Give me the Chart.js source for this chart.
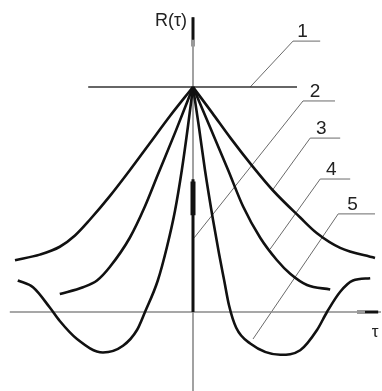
<!DOCTYPE html>
<html>
<head>
<meta charset="utf-8">
<script src="https://cdn.jsdelivr.net/npm/chart.js@4/dist/chart.umd.min.js"></script>
<style>
  html, body { margin: 0; padding: 0; background: #fff; }
</style>
</head>
<body>
<canvas id="corrChart" width="382" height="391"></canvas>
<script>
// Correlation functions R(tau), normalized to R(0) = 1
// 1 - constant process
const tau1 = [-2.62, 2.6];
const r1 = [1, 1];

// 2 - white noise (impulse at tau = 0)
const tau2 = [0, 0];
const r2 = [0.59, 0];

// 3 - slow exponential decay
const tau3L = [-4.45, -3.83, -3.33, -2.95, -2.58, -2.08, -1.58, -1.08, -0.58, 0];
const r3L = [0.23, 0.255, 0.29, 0.34, 0.41, 0.515, 0.63, 0.75, 0.87, 1];
const tau3R = [0, 0.48, 0.93, 1.5, 2.0, 2.68, 3.1, 3.68, 4.55];
const r3R = [1, 0.885, 0.775, 0.645, 0.54, 0.42, 0.35, 0.285, 0.24];

// 4 - fast exponential decay
const tau4L = [-3.33, -2.75, -2.4, -2.08, -1.58, -1.2, -0.88, -0.43, 0];
const r4L = [0.08, 0.11, 0.14, 0.2, 0.33, 0.47, 0.61, 0.805, 1];
const tau4R = [0, 0.43, 0.88, 1.25, 1.68, 2.1, 2.43, 2.85, 3.43];
const r4R = [1, 0.82, 0.63, 0.47, 0.33, 0.23, 0.17, 0.12, 0.1];

// 5 - damped oscillation
const tau5L = [-4.38, -4.0, -3.58, -3.33, -2.9, -2.25, -1.75, -1.4, -1.2, -0.88, -0.65, -0.45, -0.28, -0.13, 0];
const r5L = [0.14, 0.11, 0.02, -0.04, -0.12, -0.18, -0.15, -0.08, 0, 0.14, 0.29, 0.45, 0.63, 0.82, 1];
const tau5R = [0, 0.15, 0.3, 0.5, 0.65, 0.78, 0.9, 1.08, 1.43, 2.18, 2.68, 3.1, 3.35, 3.68, 4.0, 4.43];
const r5R = [1, 0.82, 0.63, 0.41, 0.26, 0.14, 0.03, -0.07, -0.14, -0.19, -0.17, -0.08, 0, 0.09, 0.14, 0.15];

// curve labels and their leader lines: underline from (ax, ay) to (bx, ay), pointer to (tx, ty)
const labels = ['1', '2', '3', '4', '5'];
const leadAx = [2.5, 2.75, 2.93, 3.18, 3.63];
const leadBx = [3.18, 3.55, 3.68, 3.93, 4.55];
const leadAy = [1.204, 0.938, 0.773, 0.591, 0.436];
const leadTx = [1.43, 0.03, 1.98, 1.93, 1.5];
const leadTy = [1.0, 0.33, 0.54, 0.28, -0.12];

const pts = (xs, ys) => xs.map((x, i) => ({ x: x, y: ys[i] }));

function curve(xs, ys) {
  return {
    data: pts(xs, ys),
    borderColor: '#111',
    borderWidth: 2.6,
    cubicInterpolationMode: 'monotone',
    order: 1
  };
}

function straight(xs, ys, color, width, order) {
  return {
    data: pts(xs, ys),
    borderColor: color,
    borderWidth: width,
    tension: 0,
    order: order
  };
}

const leaderPlugin = {
  id: 'leaders',
  beforeDatasetsDraw(chart) {
    const ctx = chart.ctx;
    const xs = chart.scales.x, ys = chart.scales.y;
    ctx.save();
    ctx.strokeStyle = '#6a6a6a';
    ctx.lineWidth = 1;
    labels.forEach((lab, i) => {
      const ax = xs.getPixelForValue(leadAx[i]);
      const bx = xs.getPixelForValue(leadBx[i]);
      const ay = ys.getPixelForValue(leadAy[i]);
      ctx.beginPath();
      ctx.moveTo(xs.getPixelForValue(leadTx[i]), ys.getPixelForValue(leadTy[i]));
      ctx.lineTo(ax, ay);
      ctx.lineTo(bx, ay);
      ctx.stroke();
    });
    ctx.restore();
  },
  afterDraw(chart) {
    const ctx = chart.ctx;
    const xs = chart.scales.x, ys = chart.scales.y;
    ctx.save();
    ctx.fillStyle = '#222';
    ctx.textAlign = 'center';
    ctx.textBaseline = 'alphabetic';
    ctx.font = '19px "Liberation Sans", Arial, sans-serif';
    labels.forEach((lab, i) => {
      const mid = (xs.getPixelForValue(leadAx[i]) + xs.getPixelForValue(leadBx[i])) / 2;
      ctx.fillText(lab, mid - 4, ys.getPixelForValue(leadAy[i]) - 4);
    });
    // axis names
    const x0 = xs.getPixelForValue(0);
    const y0 = ys.getPixelForValue(0);
    ctx.font = '18px "Liberation Sans", Arial, sans-serif';
    ctx.textAlign = 'right';
    ctx.fillText('R(τ)', x0 - 6, 26);
    ctx.textAlign = 'center';
    ctx.font = '17px "Liberation Sans", Arial, sans-serif';
    ctx.fillText('τ', xs.getPixelForValue(4.55), y0 + 25);
    ctx.restore();
  }
};

new Chart(document.getElementById('corrChart'), {
  type: 'scatter',
  data: {
    datasets: [
      curve(tau3L, r3L), curve(tau3R, r3R),
      curve(tau4L, r4L), curve(tau4R, r4R),
      curve(tau5L, r5L), curve(tau5R, r5R),
      straight(tau2, r2, '#111', 3, 1),
      straight([0, 0], [0.58, 0.43], '#111', 5, 1),
      straight(tau1, r1, '#333', 1.5, 2),
      // arrow heads of the coordinate axes
      straight([0, 0], [1.31, 1.21], '#111', 3, 3),
      straight([0, 0], [1.21, 1.18], '#999', 4, 3),
      straight([4.3, 4.63], [0, 0], '#111', 3, 3),
      straight([4.1, 4.3], [0, 0], '#999', 4, 3),
      // coordinate axes
      straight([0, 0], [-0.36, 1.31], '#8a8a8a', 1.6, 4),
      straight([-4.58, 4.7], [0, 0], '#8a8a8a', 1.6, 4)
    ]
  },
  options: {
    responsive: false,
    animation: false,
    showLine: true,
    layout: { padding: 0 },
    elements: { point: { radius: 0, hoverRadius: 0 } },
    plugins: { legend: { display: false }, tooltip: { enabled: false } },
    scales: {
      x: { type: 'linear', min: -4.825, max: 4.725, display: false },
      y: { type: 'linear', min: -0.3511, max: 1.3867, display: false }
    }
  },
  plugins: [leaderPlugin]
});
</script>
</body>
</html>
